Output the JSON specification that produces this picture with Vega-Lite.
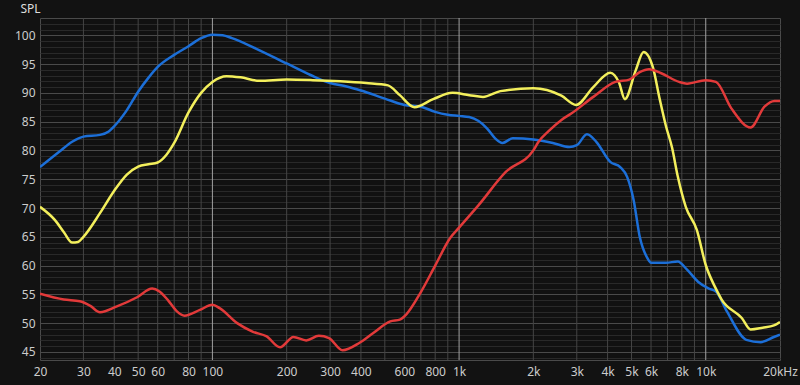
{
  "$schema": "https://vega.github.io/schema/vega-lite/v6.json",
  "width": 740,
  "height": 342,
  "autosize": "none",
  "padding": {"left": 40, "top": 18, "right": 20, "bottom": 25},
  "background": "#121212",
  "config": {
    "view": {"stroke": "#4a4a4a", "fill": "#111111"},
    "axis": {"labelFont": "Noto Sans", "titleFont": "Noto Sans", "labelColor": "#cccccc", "titleColor": "#dddddd", "labelFontSize": 12, "domain": false, "ticks": false, "tickSize": 0}
  },
  "datasets": {
    "vgrid": [
      {"f": 30}, {"f": 40}, {"f": 50}, {"f": 60}, {"f": 70}, {"f": 80}, {"f": 90}, {"f": 100},
      {"f": 200}, {"f": 300}, {"f": 400}, {"f": 500}, {"f": 600}, {"f": 700}, {"f": 800}, {"f": 900}, {"f": 1000},
      {"f": 2000}, {"f": 3000}, {"f": 4000}, {"f": 5000}, {"f": 6000}, {"f": 7000}, {"f": 8000}, {"f": 9000}, {"f": 10000}
    ],
    "curves": [
      {"s": "blue", "f": 20, "db": 77.1}, {"s": "blue", "f": 24, "db": 79.8}, {"s": "blue", "f": 27, "db": 81.5}, {"s": "blue", "f": 30, "db": 82.4}, {"s": "blue", "f": 35, "db": 82.7}, {"s": "blue", "f": 38, "db": 83.3}, {"s": "blue", "f": 40, "db": 84.2}, {"s": "blue", "f": 45, "db": 87.0}, {"s": "blue", "f": 50, "db": 90.2}, {"s": "blue", "f": 55, "db": 92.6}, {"s": "blue", "f": 60, "db": 94.5}, {"s": "blue", "f": 70, "db": 96.6}, {"s": "blue", "f": 80, "db": 98.1}, {"s": "blue", "f": 90, "db": 99.5}, {"s": "blue", "f": 100, "db": 100.1}, {"s": "blue", "f": 110, "db": 100.0}, {"s": "blue", "f": 120, "db": 99.5}, {"s": "blue", "f": 150, "db": 97.7}, {"s": "blue", "f": 200, "db": 95.1}, {"s": "blue", "f": 250, "db": 93.1}, {"s": "blue", "f": 300, "db": 91.7}, {"s": "blue", "f": 350, "db": 91.1}, {"s": "blue", "f": 400, "db": 90.4}, {"s": "blue", "f": 500, "db": 89.0}, {"s": "blue", "f": 600, "db": 87.9}, {"s": "blue", "f": 700, "db": 87.6}, {"s": "blue", "f": 800, "db": 86.7}, {"s": "blue", "f": 900, "db": 86.2}, {"s": "blue", "f": 1000, "db": 86.0}, {"s": "blue", "f": 1100, "db": 85.8}, {"s": "blue", "f": 1200, "db": 85.1}, {"s": "blue", "f": 1300, "db": 83.8}, {"s": "blue", "f": 1400, "db": 82.1}, {"s": "blue", "f": 1500, "db": 81.3}, {"s": "blue", "f": 1650, "db": 82.1}, {"s": "blue", "f": 2000, "db": 81.9}, {"s": "blue", "f": 2400, "db": 81.3}, {"s": "blue", "f": 2800, "db": 80.6}, {"s": "blue", "f": 3000, "db": 80.9}, {"s": "blue", "f": 3300, "db": 82.8}, {"s": "blue", "f": 3600, "db": 81.5}, {"s": "blue", "f": 4100, "db": 78.0}, {"s": "blue", "f": 4500, "db": 77.1}, {"s": "blue", "f": 4800, "db": 75.4}, {"s": "blue", "f": 5100, "db": 71.4}, {"s": "blue", "f": 5400, "db": 65.0}, {"s": "blue", "f": 5800, "db": 61.3}, {"s": "blue", "f": 6000, "db": 60.5}, {"s": "blue", "f": 6900, "db": 60.5}, {"s": "blue", "f": 7700, "db": 60.7}, {"s": "blue", "f": 8400, "db": 59.3}, {"s": "blue", "f": 9300, "db": 57.2}, {"s": "blue", "f": 10300, "db": 56.0}, {"s": "blue", "f": 11000, "db": 55.5}, {"s": "blue", "f": 12200, "db": 52.0}, {"s": "blue", "f": 14600, "db": 47.1}, {"s": "blue", "f": 16700, "db": 46.7}, {"s": "blue", "f": 18900, "db": 47.6}, {"s": "blue", "f": 20000, "db": 48.0},
      {"s": "yellow", "f": 20, "db": 70.2}, {"s": "yellow", "f": 23, "db": 67.9}, {"s": "yellow", "f": 25, "db": 65.8}, {"s": "yellow", "f": 27, "db": 64.0}, {"s": "yellow", "f": 28.5, "db": 64.1}, {"s": "yellow", "f": 30, "db": 65.0}, {"s": "yellow", "f": 35, "db": 69.1}, {"s": "yellow", "f": 40, "db": 73.0}, {"s": "yellow", "f": 45, "db": 75.8}, {"s": "yellow", "f": 50, "db": 77.2}, {"s": "yellow", "f": 55, "db": 77.6}, {"s": "yellow", "f": 60, "db": 77.9}, {"s": "yellow", "f": 65, "db": 79.2}, {"s": "yellow", "f": 70, "db": 81.3}, {"s": "yellow", "f": 80, "db": 86.6}, {"s": "yellow", "f": 90, "db": 90.0}, {"s": "yellow", "f": 100, "db": 91.9}, {"s": "yellow", "f": 114, "db": 92.9}, {"s": "yellow", "f": 130, "db": 92.7}, {"s": "yellow", "f": 155, "db": 92.1}, {"s": "yellow", "f": 200, "db": 92.3}, {"s": "yellow", "f": 255, "db": 92.2}, {"s": "yellow", "f": 330, "db": 92.0}, {"s": "yellow", "f": 420, "db": 91.7}, {"s": "yellow", "f": 515, "db": 91.3}, {"s": "yellow", "f": 575, "db": 89.6}, {"s": "yellow", "f": 660, "db": 87.5}, {"s": "yellow", "f": 785, "db": 88.9}, {"s": "yellow", "f": 940, "db": 90.0}, {"s": "yellow", "f": 1100, "db": 89.6}, {"s": "yellow", "f": 1250, "db": 89.3}, {"s": "yellow", "f": 1470, "db": 90.3}, {"s": "yellow", "f": 2000, "db": 90.8}, {"s": "yellow", "f": 2270, "db": 90.5}, {"s": "yellow", "f": 2600, "db": 89.5}, {"s": "yellow", "f": 2980, "db": 87.9}, {"s": "yellow", "f": 3500, "db": 91.0}, {"s": "yellow", "f": 4100, "db": 93.5}, {"s": "yellow", "f": 4450, "db": 91.8}, {"s": "yellow", "f": 4700, "db": 88.9}, {"s": "yellow", "f": 5200, "db": 93.9}, {"s": "yellow", "f": 5600, "db": 97.1}, {"s": "yellow", "f": 6100, "db": 94.5}, {"s": "yellow", "f": 6500, "db": 89.0}, {"s": "yellow", "f": 6900, "db": 84.2}, {"s": "yellow", "f": 7300, "db": 80.5}, {"s": "yellow", "f": 7700, "db": 75.5}, {"s": "yellow", "f": 8300, "db": 70.2}, {"s": "yellow", "f": 9200, "db": 66.2}, {"s": "yellow", "f": 10000, "db": 60.1}, {"s": "yellow", "f": 10900, "db": 56.3}, {"s": "yellow", "f": 11600, "db": 54.1}, {"s": "yellow", "f": 14000, "db": 50.9}, {"s": "yellow", "f": 15200, "db": 48.9}, {"s": "yellow", "f": 17000, "db": 49.2}, {"s": "yellow", "f": 18900, "db": 49.6}, {"s": "yellow", "f": 20000, "db": 50.2},
      {"s": "red", "f": 20, "db": 55.1}, {"s": "red", "f": 25, "db": 54.1}, {"s": "red", "f": 29, "db": 53.8}, {"s": "red", "f": 32, "db": 53.0}, {"s": "red", "f": 35, "db": 51.9}, {"s": "red", "f": 41, "db": 52.9}, {"s": "red", "f": 49.5, "db": 54.5}, {"s": "red", "f": 57, "db": 56.0}, {"s": "red", "f": 61, "db": 55.5}, {"s": "red", "f": 66, "db": 54.0}, {"s": "red", "f": 72, "db": 52.0}, {"s": "red", "f": 77, "db": 51.3}, {"s": "red", "f": 89, "db": 52.3}, {"s": "red", "f": 100, "db": 53.2}, {"s": "red", "f": 107, "db": 52.6}, {"s": "red", "f": 126, "db": 50.0}, {"s": "red", "f": 146, "db": 48.5}, {"s": "red", "f": 166, "db": 47.7}, {"s": "red", "f": 188, "db": 45.8}, {"s": "red", "f": 213, "db": 47.6}, {"s": "red", "f": 240, "db": 47.0}, {"s": "red", "f": 270, "db": 47.8}, {"s": "red", "f": 297, "db": 47.4}, {"s": "red", "f": 337, "db": 45.3}, {"s": "red", "f": 395, "db": 46.6}, {"s": "red", "f": 449, "db": 48.3}, {"s": "red", "f": 526, "db": 50.3}, {"s": "red", "f": 575, "db": 50.6}, {"s": "red", "f": 610, "db": 51.5}, {"s": "red", "f": 700, "db": 55.4}, {"s": "red", "f": 800, "db": 60.0}, {"s": "red", "f": 920, "db": 64.8}, {"s": "red", "f": 1000, "db": 66.6}, {"s": "red", "f": 1200, "db": 70.5}, {"s": "red", "f": 1550, "db": 76.3}, {"s": "red", "f": 2000, "db": 80.0}, {"s": "red", "f": 2100, "db": 81.5}, {"s": "red", "f": 2300, "db": 83.3}, {"s": "red", "f": 2600, "db": 85.3}, {"s": "red", "f": 2850, "db": 86.4}, {"s": "red", "f": 3500, "db": 89.3}, {"s": "red", "f": 4300, "db": 91.9}, {"s": "red", "f": 4900, "db": 92.3}, {"s": "red", "f": 5400, "db": 93.6}, {"s": "red", "f": 5900, "db": 94.1}, {"s": "red", "f": 6600, "db": 93.4}, {"s": "red", "f": 7800, "db": 91.9}, {"s": "red", "f": 8400, "db": 91.6}, {"s": "red", "f": 10000, "db": 92.2}, {"s": "red", "f": 11000, "db": 91.9}, {"s": "red", "f": 12700, "db": 87.3}, {"s": "red", "f": 15200, "db": 84.0}, {"s": "red", "f": 17300, "db": 87.6}, {"s": "red", "f": 19000, "db": 88.6}, {"s": "red", "f": 20000, "db": 88.6}
    ]
  },
  "encoding": {
    "x": {
      "field": "f", "type": "quantitative",
      "scale": {"type": "log", "domain": [20, 20000], "nice": false},
      "axis": {
        "title": null,
        "values": [20, 30, 40, 50, 60, 80, 100, 200, 300, 400, 600, 800, 1000, 2000, 3000, 4000, 5000, 6000, 8000, 10000, 20000],
        "labelExpr": "datum.value == 20000 ? '20kHz' : (datum.value >= 1000 ? (datum.value / 1000) + 'k' : datum.value + '')",
        "labelFlush": false,
        "labelOverlap": false,
        "labelPadding": 6,
        "grid": false
      }
    }
  },
  "layer": [
    {
      "data": {"name": "vgrid"},
      "mark": {"type": "rule", "strokeWidth": 1},
      "encoding": {
        "color": {"condition": {"test": "datum.f == 100 || datum.f == 1000 || datum.f == 10000", "value": "#a0a0a0"}, "value": "#454545"}
      }
    },
    {
      "data": {"name": "curves"},
      "mark": {"type": "line", "interpolate": "monotone", "strokeWidth": 2.5, "clip": true},
      "encoding": {
        "y": {
          "field": "db", "type": "quantitative",
          "scale": {"domain": [43.6, 103], "nice": false, "zero": false},
          "axis": {
            "title": "SPL",
            "titleAngle": 0,
            "titleAlign": "left",
            "titleBaseline": "middle",
            "titleX": -20,
            "titleY": -10,
            "titleFontSize": 12,
            "titleFontWeight": "normal",
            "values": [44, 45, 46, 47, 48, 49, 50, 51, 52, 53, 54, 55, 56, 57, 58, 59, 60, 61, 62, 63, 64, 65, 66, 67, 68, 69, 70, 71, 72, 73, 74, 75, 76, 77, 78, 79, 80, 81, 82, 83, 84, 85, 86, 87, 88, 89, 90, 91, 92, 93, 94, 95, 96, 97, 98, 99, 100, 101, 102],
            "labelExpr": "datum.value % 5 == 0 ? datum.value + '' : ''",
            "labelOverlap": false,
            "labelPadding": 5,
            "grid": true,
            "gridColor": {"condition": {"test": "datum.value % 5 == 0", "value": "#4a4a4a"}, "value": "#292929"},
            "gridWidth": 1
          }
        },
        "color": {
          "field": "s", "type": "nominal", "legend": null,
          "scale": {"domain": ["blue", "yellow", "red"], "range": ["#1c6fd8", "#f3ef5c", "#e23a3a"]}
        }
      }
    }
  ]
}
